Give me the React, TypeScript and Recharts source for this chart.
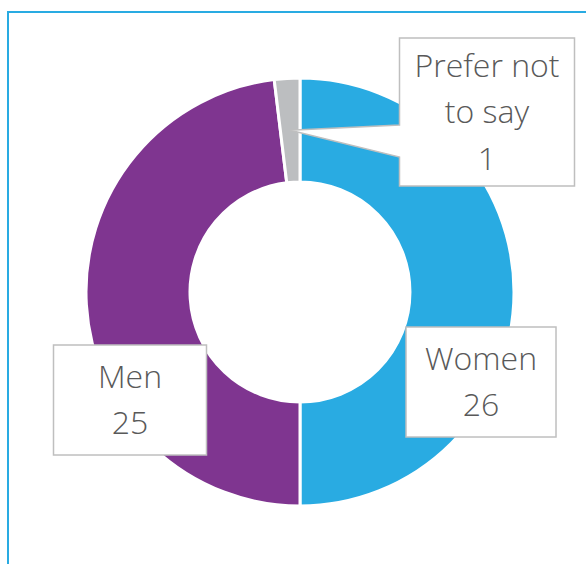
import { PieChart, Pie, Cell } from 'recharts'

const categories = ['Women', 'Men', 'Prefer not to say']
const counts = [26, 25, 1]
const colors = ['#29ABE2', '#7F3590', '#BCBEC0']
const labelLines = [['Women'], ['Men'], ['Prefer not', 'to say']]

const data = categories.map((name, i) => ({ name, value: counts[i], color: colors[i], lines: labelLines[i] }))

// label box placement, relative to pie centre (manual like the original)
const placement: Record<string, { dx: number; dy: number; w: number; h: number; callout?: boolean }> = {
  Women: { dx: 181, dy: 90, w: 150, h: 110 },
  Men: { dx: -170, dy: 108, w: 153, h: 110 },
  'Prefer not to say': { dx: 187, dy: -180, w: 175, h: 148, callout: true },
}

const RAD = Math.PI / 180
const FONT = '"Open Sans", "Noto Sans", sans-serif'

function renderLabel(props: any) {
  const { cx, cy, midAngle, innerRadius, outerRadius, payload, value } = props
  const p = placement[payload.name]
  if (!p) return null
  const bx = cx + p.dx
  const by = cy + p.dy
  const left = bx - p.w / 2
  const top = by - p.h / 2
  const lines: string[] = [...payload.lines, String(value)]
  const step = 46.5
  const firstBase = by - ((lines.length - 1) * step) / 2 + 11
  let box
  if (p.callout) {
    const r = (innerRadius + outerRadius) / 2
    const tx = cx + r * Math.cos(-midAngle * RAD)
    const ty = cy + r * Math.sin(-midAngle * RAD)
    const d = `M${left},${top} H${left + p.w} V${top + p.h} H${left} V${top + 119} L${tx},${ty} L${left},${top + 87} Z`
    box = <path d={d} fill="#fff" stroke="#BFBFBF" strokeWidth={1.5} />
  } else {
    box = <rect x={left} y={top} width={p.w} height={p.h} fill="#fff" stroke="#BFBFBF" strokeWidth={1.5} />
  }
  return (
    <g key={payload.name}>
      {box}
      {lines.map((t, i) => (
        <text key={i} x={bx} y={firstBase + i * step} textAnchor="middle" fill="#595959" fontSize={32} fontFamily={FONT} fontWeight={300}>
          {t}
        </text>
      ))}
    </g>
  )
}

export default function App() {
  return (
    <div style={{ position: 'absolute', left: 0, top: 0, width: 586, height: 564, background: '#fff', overflow: 'hidden' }}>
      <div style={{ position: 'absolute', left: 7, top: 11, width: 600, height: 600, borderLeft: '2px solid #29ABE2', borderTop: '2px solid #29ABE2' }} />
      <div style={{ position: 'absolute', left: 0, top: 0 }}>
        <PieChart width={586} height={564} margin={{ top: 0, right: 0, bottom: 0, left: 0 }}>
          <Pie
            data={data}
            dataKey="value"
            nameKey="name"
            cx={300}
            cy={292}
            innerRadius={110}
            outerRadius={214}
            startAngle={90}
            endAngle={-270}
            stroke="#fff"
            strokeWidth={3}
            label={renderLabel}
            labelLine={false}
            isAnimationActive={false}
          >
            {data.map((d, i) => (
              <Cell key={i} fill={d.color} />
            ))}
          </Pie>
        </PieChart>
      </div>
    </div>
  )
}
